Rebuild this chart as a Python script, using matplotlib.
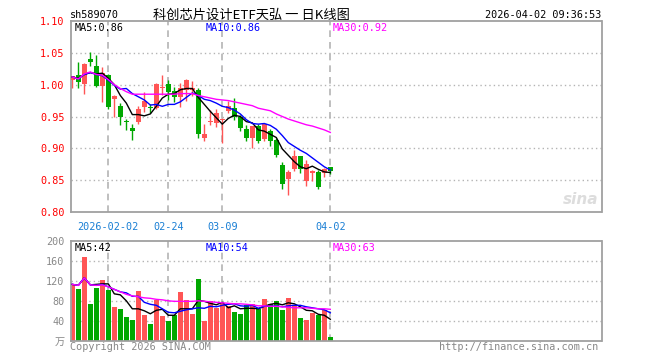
import matplotlib
matplotlib.use('Agg')
import matplotlib.pyplot as plt

# daily candles, 2026-01-23 .. 2026-04-02 (44 trading days)
opens = [1.008, 1.015, 1.001, 1.041, 1.029, 0.998, 1.015, 0.978, 0.967, 0.943,
         0.932, 0.942, 0.965, 0.965, 0.964, 0.994, 1.001, 0.990, 0.981, 0.991,
         0.992, 0.992, 0.917, 0.942, 0.940, 0.944, 0.958, 0.964, 0.949, 0.930,
         0.917, 0.935, 0.914, 0.927, 0.913, 0.874, 0.852, 0.868, 0.888, 0.849,
         0.862, 0.863, 0.861, 0.870]
highs = [1.014, 1.036, 1.034, 1.052, 1.047, 1.028, 1.016, 0.983, 0.971, 0.946,
         0.938, 0.966, 0.988, 0.970, 1.003, 1.015, 1.008, 0.996, 1.002, 1.009,
         1.006, 0.995, 0.939, 0.960, 0.962, 0.948, 0.974, 0.979, 0.952, 0.936,
         0.935, 0.938, 0.939, 0.931, 0.917, 0.879, 0.866, 0.898, 0.888, 0.881,
         0.866, 0.866, 0.869, 0.870]
lows = [0.994, 0.994, 0.986, 1.030, 0.996, 0.973, 0.962, 0.950, 0.936, 0.929,
        0.913, 0.938, 0.957, 0.955, 0.962, 0.984, 0.976, 0.973, 0.965, 0.975,
        0.982, 0.917, 0.911, 0.936, 0.934, 0.909, 0.956, 0.944, 0.928, 0.911,
        0.900, 0.909, 0.912, 0.904, 0.887, 0.836, 0.826, 0.865, 0.862, 0.841,
        0.849, 0.836, 0.855, 0.860]
closes = [1.013, 1.004, 1.033, 1.036, 0.998, 1.019, 0.965, 0.982, 0.950, 0.941,
          0.928, 0.962, 0.975, 0.963, 1.001, 0.996, 0.989, 0.981, 0.995, 1.008,
          0.995, 0.923, 0.922, 0.943, 0.955, 0.946, 0.967, 0.950, 0.932, 0.917,
          0.935, 0.911, 0.938, 0.911, 0.890, 0.844, 0.863, 0.888, 0.868, 0.875,
          0.864, 0.840, 0.867, 0.864]

ma5 = [1.012, 1.010, 1.016, 1.019, 1.017, 1.018, 1.010, 1.000, 0.983, 0.971,
       0.953, 0.953, 0.951, 0.954, 0.966, 0.979, 0.985, 0.986, 0.992, 0.994,
       0.994, 0.980, 0.969, 0.958, 0.948, 0.938, 0.947, 0.952, 0.950, 0.942,
       0.940, 0.929, 0.927, 0.922, 0.917, 0.899, 0.889, 0.879, 0.871, 0.868,
       0.872, 0.867, 0.863, 0.862]
ma10 = [1.012, 1.009, 1.016, 1.019, 1.016, 1.014, 1.007, 0.999, 0.993, 0.994,
        0.986, 0.981, 0.976, 0.968, 0.969, 0.966, 0.969, 0.969, 0.973, 0.980,
        0.987, 0.983, 0.977, 0.975, 0.971, 0.966, 0.964, 0.960, 0.954, 0.945,
        0.939, 0.938, 0.939, 0.936, 0.930, 0.920, 0.909, 0.903, 0.897, 0.892,
        0.885, 0.878, 0.871, 0.866]
ma30 = [1.012, 1.009, 1.017, 1.020, 1.016, 1.015, 1.008, 1.000, 0.994, 0.989,
        0.985, 0.985, 0.985, 0.985, 0.985, 0.985, 0.985, 0.985, 0.986, 0.986,
        0.986, 0.983, 0.981, 0.979, 0.977, 0.976, 0.975, 0.973, 0.971, 0.969,
        0.967, 0.963, 0.961, 0.959, 0.954, 0.950, 0.946, 0.943, 0.940, 0.937,
        0.935, 0.932, 0.929, 0.925]

# volume in 10k lots
volumes = [113, 103, 168, 74, 106, 121, 102, 68, 63, 47, 42, 99, 51, 33, 82, 49,
           40, 51, 97, 81, 53, 123, 40, 79, 66, 76, 69, 58, 53, 71, 74, 64, 83,
           73, 79, 61, 85, 71, 45, 41, 56, 51, 62, 7]
vol_ma5 = [113, 111, 126, 112, 113, 114, 114, 94, 92, 80, 64, 64, 60, 54, 61, 63,
           51, 51, 64, 64, 64, 81, 79, 75, 72, 77, 66, 70, 64, 65, 65, 64, 69,
           73, 75, 72, 76, 74, 68, 61, 60, 53, 51, 43]
vol_ma10 = [113, 111, 126, 112, 111, 113, 108, 103, 98, 96, 89, 89, 77, 73, 71, 64,
            57, 56, 59, 62, 64, 66, 65, 69, 68, 71, 73, 74, 70, 69, 71, 65, 69,
            69, 70, 68, 70, 71, 71, 68, 66, 64, 62, 56]
vol_ma30 = [113, 111, 126, 112, 111, 112, 108, 103, 98, 93, 90, 88, 86, 85, 83, 82,
            80, 79, 79, 79, 79, 80, 79, 78, 77, 76, 75, 74, 74, 73, 72, 70, 70,
            69, 69, 68, 67, 66, 66, 66, 65, 64, 64, 63]

date_idx = [6, 16, 25, 43]
date_labels = ['2026-02-02', '02-24', '03-09', '04-02']
price_ticks = [0.80, 0.85, 0.90, 0.95, 1.00, 1.05, 1.10]
vol_ticks = [40, 80, 120, 160, 200]

RED = '#ff5555'
GREEN = '#00a800'
GRID = '#b4b4b4'
mono = ['DejaVu Sans Mono', 'Noto Sans CJK SC']

W, H = 660, 360
fig = plt.figure(figsize=(W / 100, H / 100), dpi=100)
fig.patch.set_facecolor('white')

def px(x0, y0, x1, y1):
    return [x0 / W, 1 - y1 / H, (x1 - x0) / W, (y1 - y0) / H]

ax1 = fig.add_axes(px(70.7, 21, 601.5, 212))
ax2 = fig.add_axes(px(70.7, 241, 601.5, 340.7))

n = len(closes)
xs = list(range(n))
up = [c >= o for o, c in zip(opens, closes)]
colors = [RED if u else GREEN for u in up]

x_lim = (-0.27, 88.2)

# price panel
for y in price_ticks[1:-1]:
    ax1.axhline(y, color=GRID, lw=1, ls=(0, (1, 2.2)), zorder=0)
for i in date_idx:
    ax1.axvline(i, color=GRID, lw=1.2, ls=(0, (4, 3)), zorder=0)
    ax2.axvline(i, color=GRID, lw=1.2, ls=(0, (4, 3)), zorder=0)

ax1.vlines(xs, lows, highs, colors=colors, lw=1, zorder=2)
bottoms = [min(o, c) for o, c in zip(opens, closes)]
heights = [max(abs(c - o), 0.0012) for o, c in zip(opens, closes)]
ax1.bar(xs, heights, bottom=bottoms, width=0.74, color=colors, lw=0, zorder=3)

ax1.plot(xs, ma5, color='black', lw=1, zorder=4)
ax1.plot(xs, ma10, color='#0000ff', lw=1, zorder=4)
ax1.plot(xs, ma30, color='#ff00ff', lw=1, zorder=4)

ax1.set_xlim(*x_lim)
ax1.set_ylim(0.80, 1.10)
ax1.set_yticks(price_ticks)
ax1.set_yticklabels(['%.2f' % v for v in price_ticks], family=mono, fontsize=7.3, color='#ff0000')
ax1.set_xticks([])

# volume panel
for y in vol_ticks[:-1]:
    ax2.axhline(y, color=GRID, lw=1, ls=(0, (1, 2.2)), zorder=0)
ax2.bar(xs, volumes, width=0.82, color=colors, lw=0, zorder=2)
ax2.plot(xs, vol_ma5, color='black', lw=1, zorder=4)
ax2.plot(xs, vol_ma10, color='#0000ff', lw=1, zorder=4)
ax2.plot(xs, vol_ma30, color='#ff00ff', lw=1, zorder=4)
ax2.set_xlim(*x_lim)
ax2.set_ylim(0, 200)
ax2.set_yticks([0] + vol_ticks)
ax2.set_yticklabels(['万'] + [str(v) for v in vol_ticks], family=mono, fontsize=7.3, color='#888888')
ax2.set_xticks([])

for ax in (ax1, ax2):
    ax.tick_params(axis='y', length=0, pad=4.5)
    for s in ax.spines.values():
        s.set_color('#a0a0a0')
        s.set_linewidth(1.3)

# texts
def ftext(x, y, s, **kw):
    kw.setdefault('family', mono)
    kw.setdefault('fontsize', 7.3)
    fig.text(x / W, 1 - y / H, s, va='center', **kw)

ftext(70, 15, 'sh589070')
ftext(251, 15, '科创芯片设计ETF天弘 一 日K线图', ha='center', family=['Noto Sans CJK SC'], fontsize=9.5)
ftext(601, 15, '2026-04-02 09:36:53', ha='right')

ftext(75, 28, 'MA5:0.86', color='black')
ftext(206, 28, 'MA10:0.86', color='#0000ff')
ftext(333, 28, 'MA30:0.92', color='#ff00ff')

ftext(75, 248, 'MA5:42', color='black')
ftext(206, 248, 'MA10:54', color='#0000ff')
ftext(333, 248, 'MA30:63', color='#ff00ff')

for i, lab in zip(date_idx, date_labels):
    xp = 72.3 + 6 * i
    ftext(xp, 227, lab, ha='center', color='#1a7fd4')

ftext(70, 347, 'Copyright 2026 SINA.COM', color='#888888')
ftext(598, 347, 'http://finance.sina.com.cn', ha='right', color='#888888')
ftext(598, 200, 'sina', ha='right', family='DejaVu Sans', fontsize=11,
      color='#dddddd', style='italic', weight='bold')

fig.savefig('out.png', dpi=100, facecolor='white')
